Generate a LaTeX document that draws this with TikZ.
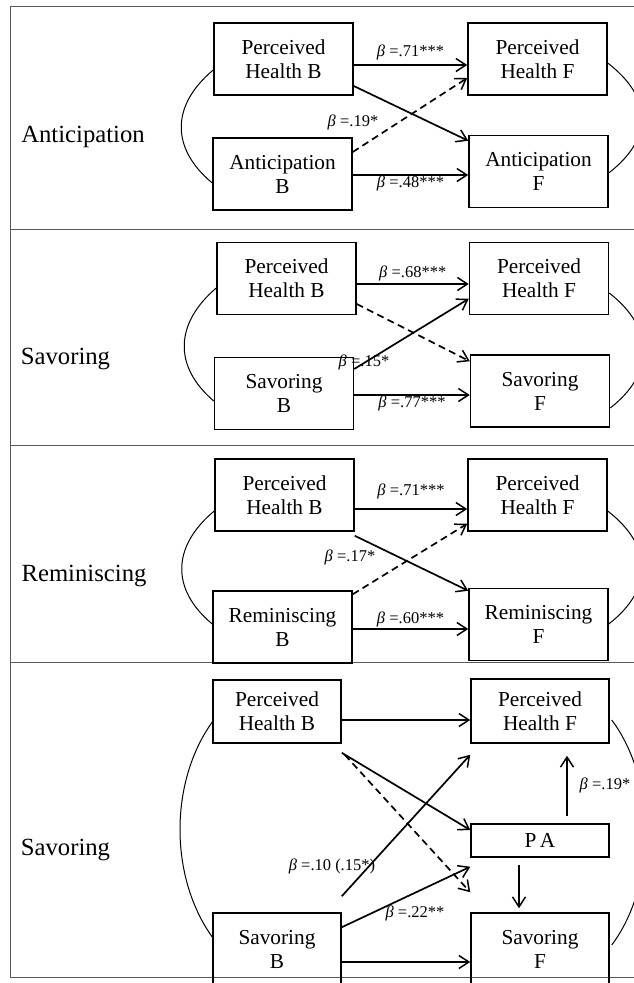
\documentclass[tikz,border=0pt]{standalone}
\usepackage{fontspec}
\setmainfont{Liberation Serif}
\usetikzlibrary{arrows.meta}

\newcommand{\boxfont}{\fontsize{21.3}{24}\selectfont}
\newcommand{\panelfont}{\fontsize{24.7}{28}\selectfont}
\newcommand{\coeffont}{\fontsize{16.5}{19}\selectfont}
\newcommand{\bt}[1]{{\itshape β} =#1}

\begin{document}
\begin{tikzpicture}[x=1pt, y=-1pt,
    var/.style={draw, line width=1.5pt, minimum width=139pt, minimum height=72pt, inner sep=0pt, align=center, font=\boxfont},
    eff/.style={line width=1.7pt, -{Straight Barb[length=10pt, width=13pt, line width=1.5pt]}},
    ns/.style={dash pattern=on 7pt off 4.5pt},
    coef/.style={font=\coeffont, inner sep=1pt},
    panel/.style={font=\panelfont},
    cov/.style={line width=1pt},
    frame/.style={line width=1pt, black!65}]
    \useasboundingbox (0,0) rectangle (634,983);
    \clip (0,0) rectangle (634,983);

    \draw[frame] (640,6) -- (10,6) -- (10,977) -- (640,977);
    \draw[frame] (10,229) -- (640,229);
    \draw[frame] (10,445) -- (640,445);
    \draw[frame] (10,662) -- (640,662);

    % Anticipation
    \node[panel] (lblA) at (83,137) {Anticipation};
    \node[var] (phbA) at (283.5,59) {Perceived\\Health B};
    \node[var] (phfA) at (537.5,59) {Perceived\\Health F};
    \node[var] (abA) at (282.5,174) {Anticipation\\B};
    \node[var] (afA) at (538.5,171.5) {Anticipation\\F};

    \draw[eff] ([yshift=-6pt]phbA.east) -- node[coef, above=3pt] {\bt{.71***}} ([yshift=-6pt]phfA.west);
    \draw[eff] ([yshift=-27pt]phbA.east) -- ([yshift=-6pt]afA.north west);
    \draw[eff, ns] ([yshift=22pt]abA.east) -- ([yshift=-19pt]phfA.west);
    \draw[eff] ([yshift=-1pt]abA.east) -- node[coef, below, inner sep=0pt] {\bt{.48***}} ([yshift=-3.5pt]afA.west);
    \node[coef] (cA) at (353,122) {\bt{.19*}};

    \draw[cov] ([yshift=-11pt]phbA.west) .. controls +(-42,35) and +(-42,-35) .. ([yshift=-9pt]abA.west);
    \draw[cov] ([yshift=-4pt]phfA.east) .. controls +(45,35) and +(45,-35) .. ([yshift=-1.5pt]afA.east);

    % Savoring
    \node[panel] (lblS) at (65.5,359) {Savoring};
    \node[var] (phbS) at (286.5,278.5) {Perceived\\Health B};
    \node[var] (phfS) at (539,278.5) {Perceived\\Health F};
    \node[var] (sbS) at (284,393.5) {Savoring\\B};
    \node[var] (sfS) at (540,391) {Savoring\\F};

    \draw[eff] ([yshift=-5.5pt]phbS.east) -- node[coef, above=1pt] {\bt{.68***}} ([yshift=-5.5pt]phfS.west);
    \draw[eff, ns] ([yshift=-25.5pt]phbS.east) -- ([yshift=-7pt]sfS.north west);
    \draw[eff] ([yshift=24.5pt]sbS.east) -- ([yshift=16.5pt]phfS.south west);
    \draw[eff] ([yshift=-1.5pt]sbS.east) -- node[coef, below, inner sep=0pt] {\bt{.77***}} ([yshift=-4pt]sfS.west);
    \node[coef] (cS) at (364,362) {\bt{.15*}};

    \draw[cov] ([yshift=-9.5pt]phbS.west) .. controls +(-41,35) and +(-41,-35) .. ([yshift=-7.5pt]sbS.west);
    \draw[cov] ([yshift=-14.5pt]phfS.east) .. controls +(45,35) and +(45,-35) .. ([yshift=-17pt]sfS.east);

    % Reminiscing
    \node[panel] (lblR) at (84,576) {Reminiscing};
    \node[var] (phbR) at (284.5,495) {Perceived\\Health B};
    \node[var] (phfR) at (537.5,495) {Perceived\\Health F};
    \node[var] (rbR) at (282.5,627) {Reminiscing\\B};
    \node[var] (rfR) at (538.5,624.5) {Reminiscing\\F};

    \draw[eff] ([yshift=-14pt]phbR.east) -- node[coef, above=8pt] {\bt{.71***}} ([yshift=-14pt]phfR.west);
    \draw[eff] ([yshift=-4pt]phbR.south east) -- ([yshift=-3pt]rfR.north west);
    \draw[eff, ns] ([yshift=-4pt]rbR.north east) -- ([yshift=8pt]phfR.south west);
    \draw[eff] ([yshift=-2pt]rbR.east) -- node[coef, above] {\bt{.60***}} ([yshift=-4.5pt]rfR.west);
    \node[coef] (cR) at (350,557) {\bt{.17*}};

    \draw[cov] ([yshift=-16pt]phbR.west) .. controls +(-42,35) and +(-42,-35) .. ([yshift=3pt]rbR.west);
    \draw[cov] ([yshift=-16pt]phfR.east) .. controls +(45,35) and +(45,-35) .. ([yshift=0.5pt]rfR.east);

    % Savoring with PA
    \node[panel] (lblV) at (65.5,850) {Savoring};
    \node[var, minimum width=128pt, minimum height=63pt] (phbV) at (277,711.5) {Perceived\\Health B};
    \node[var, minimum width=138pt, minimum height=64pt] (phfV) at (540,711) {Perceived\\Health F};
    \node[var, minimum width=138pt, minimum height=33pt] (paV) at (540,840.5) {P\,A};
    \node[var, minimum width=128pt] (sbV) at (277,949) {Savoring\\B};
    \node[var, minimum width=138pt] (sfV) at (540,949) {Savoring\\F};

    \draw[eff] ([yshift=-8.5pt]phbV.east) -- ([yshift=-9pt]phfV.west);
    \draw[eff] ([yshift=-9pt]phbV.south east) -- ([yshift=10.5pt]paV.west);
    \draw[eff, ns] ([xshift=3pt,yshift=-11pt]phbV.south east) -- ([yshift=20pt]sfV.north west);
    \draw[eff] ([yshift=16pt]sbV.north east) -- ([yshift=-11pt]phfV.south west);
    \draw[eff] ([yshift=-15pt]sbV.north east) -- ([yshift=-9pt]paV.south west);
    \draw[eff] ([yshift=-13pt]sbV.east) -- ([yshift=-13pt]sfV.west);
    \draw[eff] ([xshift=27pt,yshift=7pt]paV.north) -- ([xshift=27pt,yshift=-12pt]phfV.south);
    \draw[eff] ([xshift=-21pt,yshift=-7pt]paV.south) -- ([xshift=-21pt,yshift=4pt]sfV.north);
    \node[coef] (cV1) at (332,866) {\bt{.10 (.15*)}};
    \node[coef] (cV2) at (415,913) {\bt{.22**}};
    \node[coef] (cV3) at (605,785) {\bt{.19*}};

    \draw[cov] ([yshift=-10.5pt]phbV.west) .. controls +(-43,60) and +(-43,-60) .. ([yshift=12pt]sbV.west);
    \draw[cov] ([xshift=2pt,yshift=-9pt]phfV.east) .. controls +(45,60) and +(45,-60) .. ([xshift=2pt,yshift=4pt]sfV.east);
\end{tikzpicture}
\end{document}
